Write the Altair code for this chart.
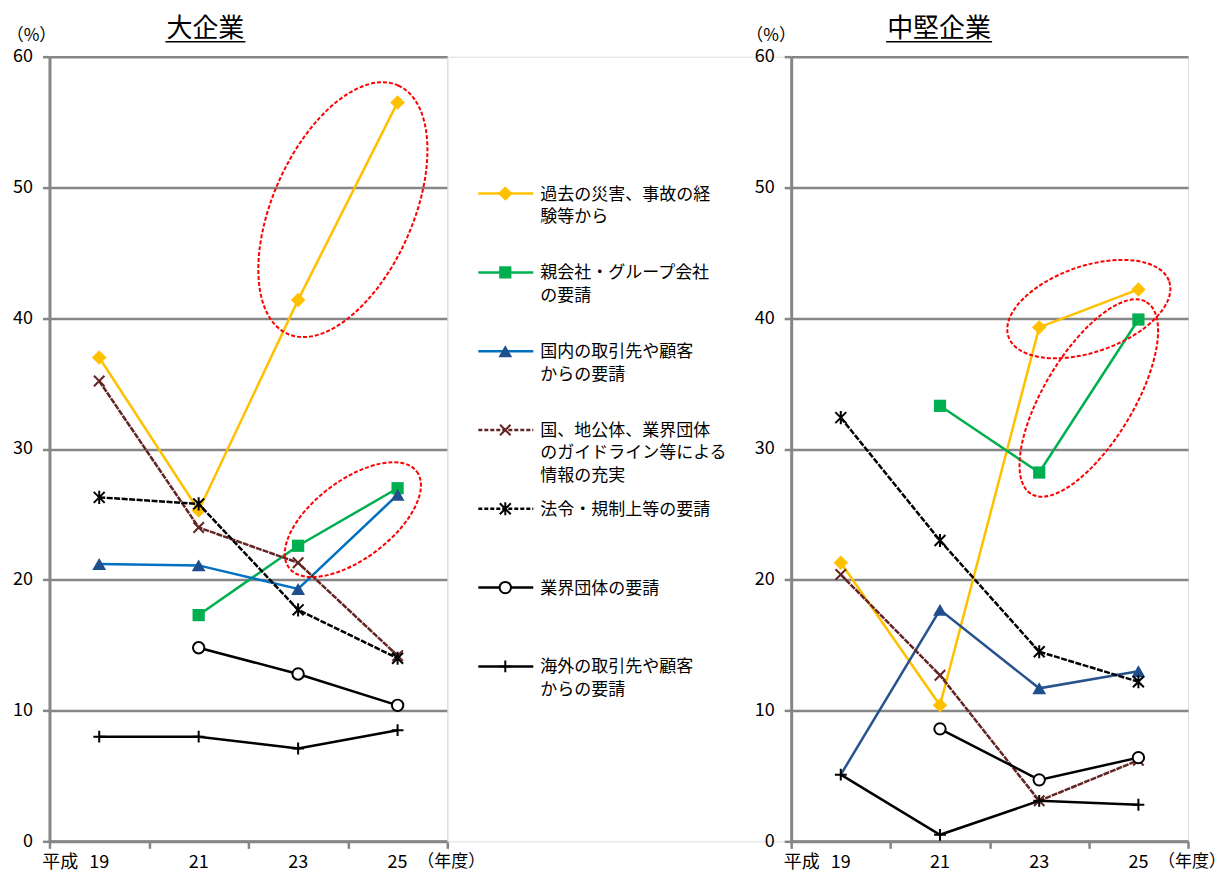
import altair as alt
import pandas as pd

FONT = "Noto Sans CJK JP"

# ---------------- data ----------------
years = [19, 21, 23, 25]
year_labels = ["19", "21", "23", "25"]
era_label = "平成"
unit_label = "（年度）"
pct_label = "（%）"
titles = ["大企業", "中堅企業"]

series_names = [
    "過去の災害、事故の経験等から",
    "親会社・グループ会社の要請",
    "国内の取引先や顧客からの要請",
    "国、地公体、業界団体のガイドライン等による情報の充実",
    "法令・規制上等の要請",
    "業界団体の要請",
    "海外の取引先や顧客からの要請",
]
legend_lines = [
    ["過去の災害、事故の経", "験等から"],
    ["親会社・グループ会社", "の要請"],
    ["国内の取引先や顧客", "からの要請"],
    ["国、地公体、業界団体", "のガイドライン等による", "情報の充実"],
    ["法令・規制上等の要請"],
    ["業界団体の要請"],
    ["海外の取引先や顧客", "からの要請"],
]

# 大企業 (values per series, in series order, for years 19/21/23/25)
large_past = [37.0, 25.3, 41.4, 56.5]
large_parent = [None, 17.3, 22.6, 27.0]
large_domestic = [21.2, 21.1, 19.3, 26.5]
large_guideline = [35.2, 24.0, 21.3, 14.2]
large_law = [26.3, 25.8, 17.7, 14.0]
large_industry = [None, 14.8, 12.8, 10.4]
large_overseas = [8.0, 8.0, 7.1, 8.5]

# 中堅企業
mid_past = [21.3, 10.4, 39.3, 42.2]
mid_parent = [None, 33.3, 28.2, 39.9]
mid_domestic = [5.1, 17.7, 11.7, 13.0]
mid_guideline = [20.4, 12.7, 3.1, 6.2]
mid_law = [32.4, 23.0, 14.5, 12.2]
mid_industry = [None, 8.6, 4.7, 6.4]
mid_overseas = [5.1, 0.5, 3.1, 2.8]

large_values = [large_past, large_parent, large_domestic, large_guideline,
                large_law, large_industry, large_overseas]
mid_values = [mid_past, mid_parent, mid_domestic, mid_guideline,
              mid_law, mid_industry, mid_overseas]

# highlighted regions (centre in data units: year position, percent)
large_marks_year = [23.9, 24.1]
large_marks_value = [48.3, 24.6]
mid_marks_year = [24.0, 24.0]
mid_marks_value = [40.7, 33.9]

# ---------------- styles ----------------
W_L, W_R, W_LEG, H = 398, 397, 344, 785
GRID = "#868686"
LAB_Y = H + 13

XPATH = "M -1 -1 L 1 1 M -1 1 L 1 -1"
STAR = "M -1 -1 L 1 1 M -1 1 L 1 -1 M 0 -1.2 L 0 1.2"
PLUS = "M -1 0 L 1 0 M 0 -1 L 0 1"

styles = [
    dict(color="#FFC000", mcolor="#FFC000", shape="diamond", size=210, fill=True),
    dict(color="#00B050", mcolor="#00B050", shape="square", size=150, fill=True),
    dict(color="#0070C0", mcolor="#1F4E8C", shape="triangle-up", size=190, fill=True),
    dict(color="#632523", mcolor="#632523", shape=XPATH, size=110, fill=False, dash=[6, 1]),
    dict(color="#000000", mcolor="#000000", shape=STAR, size=120, fill=False, dash=[6, 1.5]),
    dict(color="#000000", mcolor="#000000", shape="circle", size=130, fill="white"),
    dict(color="#000000", mcolor="#000000", shape=PLUS, size=140, fill=False),
]
mid_line_color_override = {2: "#27528C"}
mid_hidden_markers = {2: [19]}

ellipse_styles_large = [dict(size=73984, ratio=0.515, angle=294),
                        dict(size=25600, ratio=0.49, angle=323)]
ellipse_styles_mid = [dict(size=28900, ratio=0.506, angle=341),
                      dict(size=50176, ratio=0.40, angle=301)]


def ellipse_path(r):
    k = 0.5523
    return (f"M 1 0 C 1 {k*r:.4f} {k:.4f} {r:.4f} 0 {r:.4f} "
            f"C {-k:.4f} {r:.4f} -1 {k*r:.4f} -1 0 "
            f"C -1 {-k*r:.4f} {-k:.4f} {-r:.4f} 0 {-r:.4f} "
            f"C {k:.4f} {-r:.4f} 1 {-k*r:.4f} 1 0 Z")


def point_mark(st, color):
    kw = dict(shape=st["shape"], size=st["size"], opacity=1)
    if st["fill"] is True:
        kw.update(filled=True, color=color)
    elif st["fill"] == "white":
        kw.update(filled=True, fill="white", stroke=color, strokeWidth=2)
    else:
        kw.update(filled=False, stroke=color, strokeWidth=2, color=color)
    return kw


def make_panel(values, width, title, title_x, pct_x, line_override, hidden,
               ell_year, ell_value, ell_styles):
    X = alt.X("year:Q", scale=alt.Scale(domain=[18, 26], nice=False, zero=False),
              axis=alt.Axis(values=[18, 20, 22, 24, 26], labels=False, ticks=True, tickSize=7,
                            tickColor=GRID, tickWidth=2.5, domain=True, domainColor=GRID,
                            domainWidth=3, grid=False, title=None))
    Y = alt.Y("value:Q", scale=alt.Scale(domain=[0, 60], nice=False, zero=True),
              axis=alt.Axis(values=list(range(0, 61, 10)), grid=True, gridColor=GRID, gridWidth=2.5,
                            domain=True, domainColor=GRID, domainWidth=3, tickColor=GRID,
                            tickWidth=2.5, tickSize=7, labelFontSize=18, labelColor="black",
                            labelFont=FONT, labelPadding=10, title=None))
    layers = []
    for i, (name, vals) in enumerate(zip(series_names, values)):
        st = styles[i]
        df = pd.DataFrame({"year": years, "value": vals, "series": name}).dropna()
        lc = line_override.get(i, st["color"])
        lkw = dict(color=lc, strokeWidth=2.5)
        if "dash" in st:
            lkw["strokeDash"] = st["dash"]
        layers.append(alt.Chart(df).mark_line(**lkw).encode(x=X, y=Y))
        pdf = df[~df["year"].isin(hidden.get(i, []))]
        layers.append(alt.Chart(pdf).mark_point(**point_mark(st, st["mcolor"])).encode(x=X, y=Y))
    for yv, vv, es in zip(ell_year, ell_value, ell_styles):
        edf = pd.DataFrame({"year": [yv], "value": [vv]})
        layers.append(alt.Chart(edf).mark_point(
            shape=ellipse_path(es["ratio"]), size=es["size"], angle=es["angle"],
            filled=False, stroke="#FF0000", strokeWidth=2, strokeDash=[4, 2], opacity=1
        ).encode(x=X, y=Y))
    lab = pd.DataFrame({"year": years, "label": year_labels})
    layers.append(alt.Chart(lab).mark_text(fontSize=18, font=FONT, baseline="top", align="center",
                                           color="black").encode(x=X, y=alt.value(LAB_Y), text="label"))
    era = pd.DataFrame({"year": [years[0]], "label": [era_label]})
    layers.append(alt.Chart(era).mark_text(fontSize=18, font=FONT, baseline="top", align="right",
                                           dx=-21, color="black").encode(x=X, y=alt.value(LAB_Y), text="label"))
    misc = pd.DataFrame({"t": [unit_label]})
    layers.append(alt.Chart(misc).mark_text(fontSize=17, font=FONT, baseline="top", align="left",
                                            color="black").encode(x=alt.value(width - 30), y=alt.value(LAB_Y), text="t"))
    pct = pd.DataFrame({"t": [pct_label]})
    layers.append(alt.Chart(pct).mark_text(fontSize=17, font=FONT, baseline="middle", align="center",
                                           color="black").encode(x=alt.value(pct_x), y=alt.value(-21), text="t"))
    tdf = pd.DataFrame({"t": [title]})
    layers.append(alt.Chart(tdf).mark_text(fontSize=26, font=FONT, baseline="middle", align="left",
                                           color="black").encode(x=alt.value(title_x), y=alt.value(-28), text="t"))
    tw = 26 * len(title)
    layers.append(alt.Chart(tdf).mark_rule(color="black", strokeWidth=1.5).encode(
        x=alt.value(title_x - 1), x2=alt.value(title_x + tw + 1), y=alt.value(-15)))
    return alt.layer(*layers).properties(width=width, height=H)


left = make_panel(large_values, W_L, titles[0], 117, -18, {}, {}, large_marks_year, large_marks_value,
                  ellipse_styles_large)
right = make_panel(mid_values, W_R, titles[1], 96, -20, mid_line_color_override, mid_hidden_markers,
                   mid_marks_year, mid_marks_value, ellipse_styles_mid)

# legend panel
LY = alt.Y("series:N", scale=alt.Scale(domain=series_names, range=[137, 610], type="point", padding=0),
           axis=None)
leg_layers = []
for i, name in enumerate(series_names):
    st = styles[i]
    d = pd.DataFrame({"series": [name]})
    rkw = dict(color=st["color"], strokeWidth=2.5)
    if "dash" in st:
        rkw["strokeDash"] = [4, 2]
    leg_layers.append(alt.Chart(d).mark_rule(**rkw).encode(x=alt.value(31), x2=alt.value(86), y=LY))
    leg_layers.append(alt.Chart(d).mark_point(**point_mark(st, st["mcolor"])).encode(x=alt.value(58), y=LY))
legdf = pd.DataFrame({"series": series_names, "label": ["\n".join(l) for l in legend_lines]})
leg_layers.append(alt.Chart(legdf).mark_text(fontSize=17, font=FONT, align="left", baseline="alphabetic",
                                             dy=6, lineBreak="\n", lineHeight=22.5, color="black").encode(
    x=alt.value(93), y=LY, text="label"))
legend = alt.layer(*leg_layers).properties(width=W_LEG, height=H)

chart = alt.hconcat(left, legend, right, spacing=0, bounds="flush").properties(
    padding={"left": 5.5, "top": 14.5, "right": 0, "bottom": 0}
).configure_view(strokeWidth=0).configure(font=FONT)

chart.save("out.html", embed_options={"renderer": "svg", "actions": False})
